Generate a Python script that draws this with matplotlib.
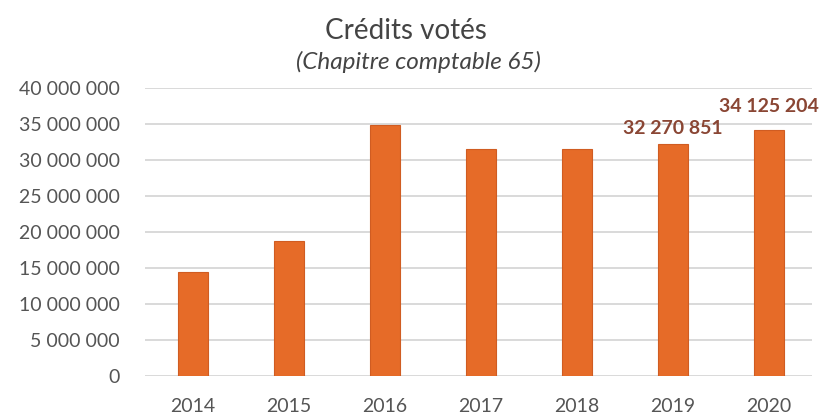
import numpy as np
import matplotlib.pyplot as plt
from matplotlib.ticker import FuncFormatter

# Data
years = ['2014', '2015', '2016', '2017', '2018', '2019', '2020']
credits = [14400000, 18800000, 34900000, 31500000, 31500000, 32270851, 34125204]
shown_labels = [None, None, None, None, None, '32 270 851', '34 125 204']
y_ticks = [0, 5000000, 10000000, 15000000, 20000000, 25000000, 30000000, 35000000, 40000000]

plt.rcParams['font.family'] = ['Lato', 'DejaVu Sans']

def fmt_space(v, pos=None):
    return '{:,.0f}'.format(v).replace(',', ' ')

fig = plt.figure(figsize=(8.23, 4.17), dpi=100)
ax = fig.add_axes([0.176, 0.098, 0.811, 0.691])

x = np.arange(len(years))
ax.bar(x, credits, width=0.31, color='#E66B28', edgecolor='#D05C22', linewidth=0.8, zorder=3)

# the two labels sit at different heights above their bars in the original
label_lift = {5: 5, 6: 11}
for xi, val, lab in zip(x, credits, shown_labels):
    if lab:
        ax.annotate(lab, (xi, val), xytext=(0, label_lift.get(xi, 6)), textcoords='offset points',
                    ha='center', va='bottom', fontsize=14, fontweight='bold', color='#8A4634')

ax.set_xlim(-0.5, 6.45)
ax.set_ylim(0, 40000000)
ax.set_yticks(y_ticks)
ax.yaxis.set_major_formatter(FuncFormatter(fmt_space))
ax.set_xticks(x)
ax.set_xticklabels(years)

ax.grid(axis='y', color='#D9D9D9', linewidth=1.4, zorder=0)
for s in ax.spines.values():
    s.set_visible(False)
ax.tick_params(axis='both', length=0, labelsize=14, colors='#555555')
ax.tick_params(axis='x', pad=16)
ax.tick_params(axis='y', pad=18)

fig.text(0.493, 0.926, 'Crédits votés', ha='center', va='center', fontsize=20, color='#444444')
fig.text(0.508, 0.851, '(Chapitre comptable 65)', ha='center', va='center', fontsize=17.5,
         style='italic', color='#444444')

fig.savefig('out.png', dpi=100, facecolor='white')
